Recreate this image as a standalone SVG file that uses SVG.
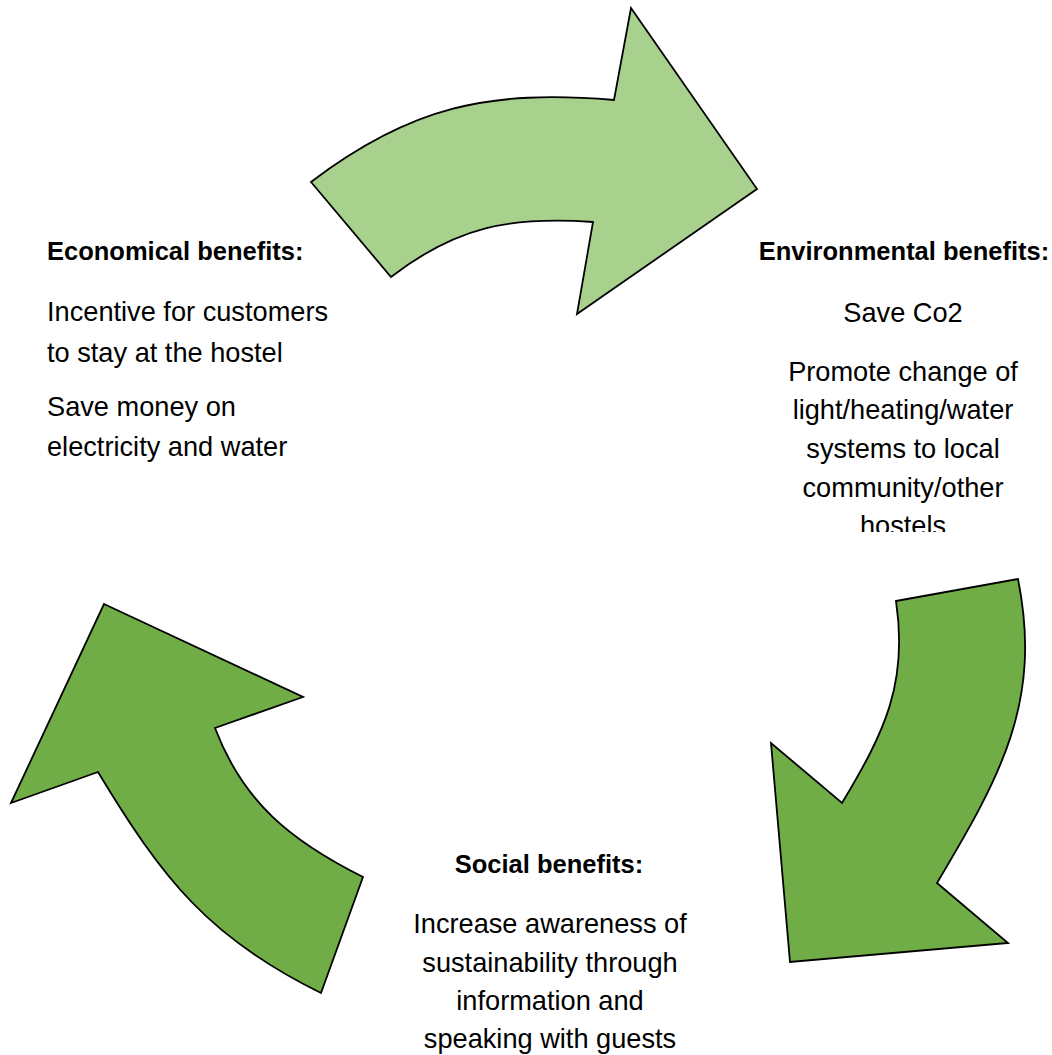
<svg xmlns="http://www.w3.org/2000/svg" width="1052" height="1055" viewBox="0 0 1052 1055">
  <style>
    .arrow { stroke: #000000; stroke-width: 1.8; stroke-linejoin: miter; }
    .light { fill: #A9D18E; }
    .dark { fill: #70AD47; }
    .head { font-family: "Liberation Sans", Arial, sans-serif; font-weight: bold; font-size: 25.5px; fill: #000000; }
    .body { font-family: "Liberation Sans", Arial, sans-serif; font-size: 27.2px; fill: #000000; }
    .mid { text-anchor: middle; }
  </style>
  <defs>
    <clipPath id="envClip">
      <rect x="740" y="230" width="312" height="302"/>
    </clipPath>
  </defs>
  <rect x="0" y="0" width="1052" height="1055" fill="#ffffff"/>

  <g id="connectors">
    <path id="arrow-top" class="arrow light" d="M311,182 C410.5,106.4 489.4,89.5 614,100 L631,8 L757,189 L577,314 L593,222 C510.2,216.2 456.6,226.4 391,277 Z"/>
    <path id="arrow-right" class="arrow dark" d="M896,601 L1018,579 C1042.5,701.5 1001,775.5 937,883 L1008,943 L790,962 L771,743 L842,803 C884.7,731.9 908.3,683.1 896,601 Z"/>
    <path id="arrow-left" class="arrow dark" d="M104,604 L303,697 L215,728 C243.4,802.8 291.5,841.2 363,877 L321,993 C208.8,938 162.6,879 98,772 L11,803 Z"/>
  </g>

  <g id="node-economical">
    <text class="head" x="47" y="260">Economical benefits:</text>
    <text class="body" x="47" y="321">Incentive for customers</text>
    <text class="body" x="47" y="362">to stay at the hostel</text>
    <text class="body" x="47" y="416">Save money on</text>
    <text class="body" x="47" y="456">electricity and water</text>
  </g>

  <g id="node-environmental" clip-path="url(#envClip)">
    <text class="head mid" x="904" y="260">Environmental benefits:</text>
    <text class="body mid" x="903" y="322">Save Co2</text>
    <text class="body mid" x="903" y="381">Promote change of</text>
    <text class="body mid" x="903" y="419">light/heating/water</text>
    <text class="body mid" x="903" y="458">systems to local</text>
    <text class="body mid" x="903" y="497">community/other</text>
    <text class="body mid" x="903" y="535">hostels</text>
  </g>

  <g id="node-social">
    <text class="head mid" x="549" y="873">Social benefits:</text>
    <text class="body mid" x="550" y="933">Increase awareness of</text>
    <text class="body mid" x="550" y="972">sustainability through</text>
    <text class="body mid" x="550" y="1010">information and</text>
    <text class="body mid" x="550" y="1048">speaking with guests</text>
  </g>
</svg>
